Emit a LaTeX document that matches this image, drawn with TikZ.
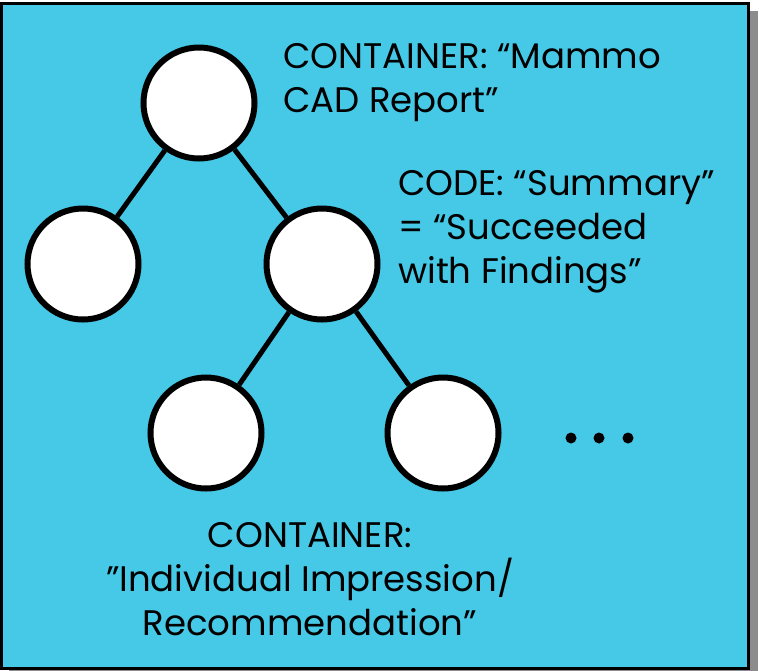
\documentclass[tikz,border=0pt]{standalone}
\usepackage{fontspec}
\setmainfont{Poppins}
\definecolor{boxcyan}{RGB}{69,201,230}
\tikzset{
	leaf/.style={circle, draw=black, fill=white, line width=6pt, minimum size=111pt, inner sep=0},
	edge/.style={line width=5pt},
	label/.style={inner sep=0, font=\fontsize{35.5}{44}\selectfont}
}
\begin{document}
\begin{tikzpicture}[x=1pt,y=-1pt]
	\useasboundingbox (0,0) rectangle (759,670);
	% Box with shadow
	\fill [black!45] (9,11) rectangle (758,678);
	\draw [line width=2.5pt,fill=boxcyan] (1.5,3.5) rectangle (748.5,668.5);
	% Tree
	\node [leaf] (root) at (199,103) {};
	\node [leaf] (left) at (83,264) {};
	\node [leaf] (mid) at (322,264) {};
	\node [leaf] (kidA) at (206,433) {};
	\node [leaf] (kidB) at (443,433) {};
	\draw [edge] (root) -- (left);
	\draw [edge] (root) -- (mid);
	\draw [edge] (mid) -- (kidA);
	\draw [edge] (mid) -- (kidB);
	% Dots
	\foreach \x in {571,599,628}
		\fill (\x,438) circle [radius=5.5];
	% Labels
	\node [label, anchor=north west, align=left] (rootlbl) at (283,43) {CONTAINER: “Mammo\\CAD Report”};
	\node [label, anchor=north west, align=left] (midlbl) at (398,170) {CODE: “Summary”\\= “Succeeded\\with Findings”};
	\node [label, anchor=north, align=center] (kidlbl) at (310,522) {CONTAINER:\\\symbol{34}Individual Impression/\\Recommendation\symbol{34}};
\end{tikzpicture}
\end{document}
